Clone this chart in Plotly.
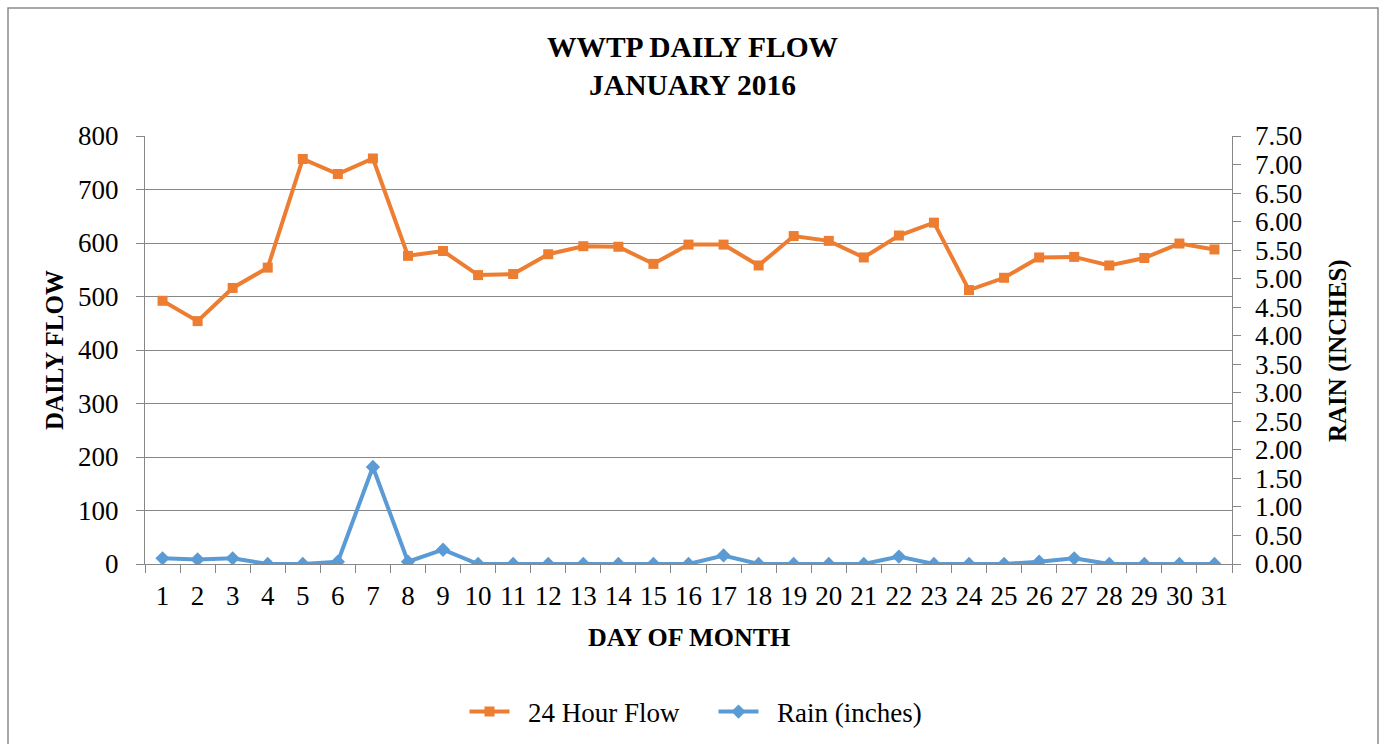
import plotly.graph_objects as go

days = [str(d) for d in range(1, 32)]
flow = [492, 454, 516, 554, 757, 729, 758, 576, 585, 540, 542, 579, 594, 593, 561,
        597, 597, 558, 613, 604, 573, 614, 638, 512, 535, 573, 574, 558, 572, 599, 588]
rain = [0.10, 0.08, 0.10, 0.00, 0.00, 0.04, 1.70, 0.04, 0.25, 0.00, 0.00, 0.00, 0.00, 0.00, 0.00,
        0.00, 0.15, 0.00, 0.00, 0.00, 0.00, 0.13, 0.00, 0.00, 0.00, 0.04, 0.10, 0.00, 0.00, 0.00, 0.00]

FONT = "Liberation Serif"
ORANGE = "#ED7D31"
BLUE = "#5B9BD5"
GRID = "#878787"
TICK = 27
NB = "\u00a0\u00a0"

W, H = 1385, 744
L, T, B = 145, 136, 180
PLOT_RIGHT = 1232       # right edge of plotting area (px)
LABEL_AXIS = 1254       # where the free right axis (labels only) sits (px)
R = W - LABEL_AXIS
pw, ph = W - L - R, H - T - B

def px_x(p):
    return (p - L) / pw

def px_y(p):
    return (H - B - p) / ph

fig = go.Figure()
fig.add_trace(go.Scatter(x=days, y=flow, name=NB + "24 Hour Flow", mode="lines+markers",
                         line=dict(color=ORANGE, width=4),
                         marker=dict(symbol="square", size=10, color=ORANGE)))
fig.add_trace(go.Scatter(x=days, y=rain, name=NB + "Rain (inches)", mode="lines+markers",
                         yaxis="y2",
                         line=dict(color=BLUE, width=4),
                         marker=dict(symbol="diamond", size=11, color=BLUE)))
# invisible trace to activate the right-hand tick axis
fig.add_trace(go.Scatter(x=[days[0]], y=[0], yaxis="y3", mode="markers",
                         marker=dict(opacity=0), showlegend=False, hoverinfo="skip"))

fig.update_layout(
    width=W, height=H,
    margin=dict(l=L, r=R, t=T, b=B, autoexpand=False),
    paper_bgcolor="white", plot_bgcolor="white",
    font=dict(family=FONT, size=TICK, color="#000000"),
    title=dict(text="<b>WWTP DAILY FLOW<br>JANUARY 2016</b>", x=0.5, xref="container",
               y=1 - 57 / H, yref="container", yanchor="middle",
               font=dict(family=FONT, size=29.5, color="#000000")),
    xaxis=dict(type="category", tickson="boundaries", ticks="outside", ticklen=8,
               tickcolor=GRID, showline=True, linecolor=GRID, linewidth=1,
               showgrid=False, tickfont=dict(size=TICK), range=[-0.5, 30.5],
               tickangle=0, ticklabelstandoff=8, domain=[0, px_x(PLOT_RIGHT)]),
    yaxis=dict(range=[0, 800], dtick=100, ticks="outside", ticklen=8, tickcolor=GRID,
               showline=True, linecolor=GRID, gridcolor=GRID, gridwidth=1,
               zeroline=False, tickfont=dict(size=TICK), ticklabelstandoff=12),
    # right axis carrying the rain labels
    yaxis2=dict(range=[0, 7.5], dtick=0.5, tickformat=".2f", overlaying="y", side="right",
                anchor="free", position=1, ticks="", showline=False,
                showgrid=False, zeroline=False, tickfont=dict(size=TICK)),
    # right axis line with short ticks at the plot edge
    yaxis3=dict(range=[0, 7.5], dtick=0.5, overlaying="y", side="right", anchor="x",
                ticks="outside", ticklen=8, tickcolor=GRID, showline=True, linecolor=GRID,
                showgrid=False, zeroline=False, showticklabels=False),
    legend=dict(orientation="h", x=0.5 + 21 / W, xref="container", xanchor="center",
                y=px_y(712), yanchor="middle", font=dict(size=27),
                itemwidth=40, tracegroupgap=0, entrywidth=194, entrywidthmode="pixels"),
    showlegend=True,
)

fig.add_annotation(text="<b>DAY OF MONTH</b>", x=px_x(689), y=px_y(637), xref="paper", yref="paper",
                   showarrow=False, font=dict(size=26), xanchor="center", yanchor="middle")
fig.add_annotation(text="<b>DAILY FLOW</b>", x=px_x(54), y=px_y(350), xref="paper", yref="paper",
                   showarrow=False, font=dict(size=25), textangle=-90, xanchor="center", yanchor="middle")
fig.add_annotation(text="<b>RAIN (INCHES)</b>", x=px_x(1338), y=px_y(351), xref="paper", yref="paper",
                   showarrow=False, font=dict(size=25), textangle=-90, xanchor="center", yanchor="middle")

fig.add_shape(type="rect", xref="paper", yref="paper",
              x0=px_x(8), x1=px_x(1378), y0=px_y(760), y1=px_y(8),
              line=dict(color="#8c8c8c", width=1.5), fillcolor="rgba(0,0,0,0)", layer="below")

fig.write_html("out.html", config={"displayModeBar": False},
               post_script="document.body.style.margin='0';document.body.style.overflow='hidden';")
